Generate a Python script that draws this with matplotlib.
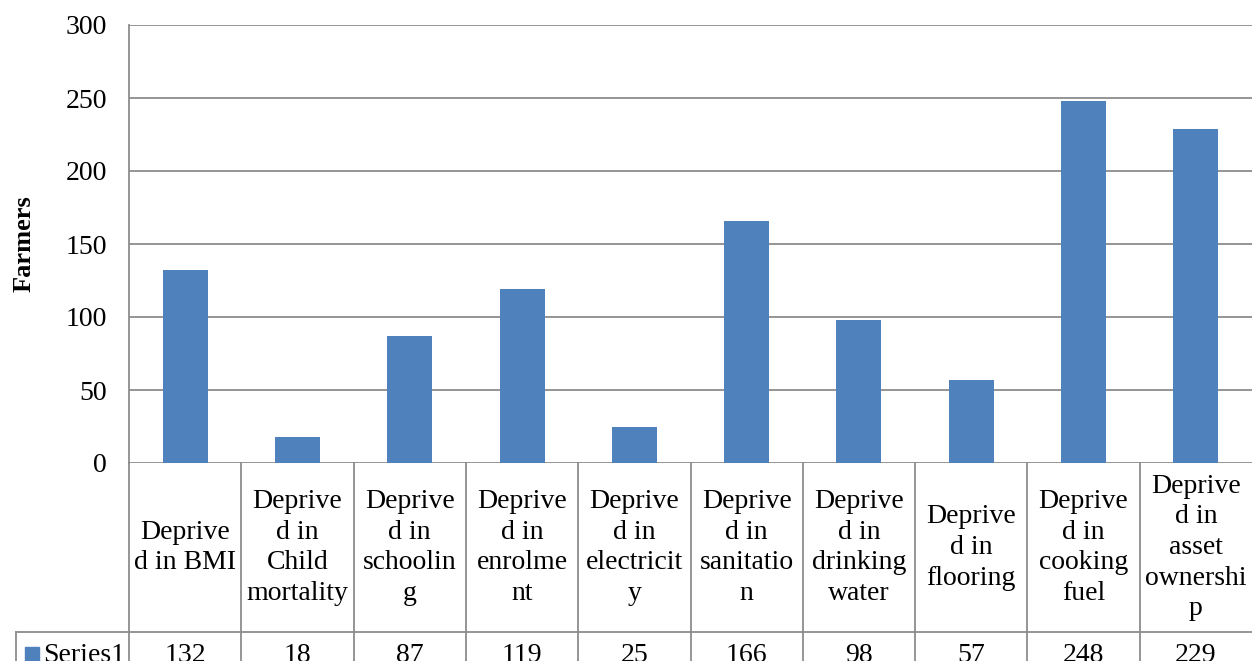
import numpy as np
from matplotlib import pyplot as plt

categories = ["Deprive\nd in BMI", "Deprive\nd in\nChild\nmortality", "Deprive\nd in\nschoolin\ng",
              "Deprive\nd in\nenrolme\nnt", "Deprive\nd in\nelectricit\ny", "Deprive\nd in\nsanitatio\nn",
              "Deprive\nd in\ndrinking\nwater", "Deprive\nd in\nflooring", "Deprive\nd in\ncooking\nfuel",
              "Deprive\nd in\nasset\nownershi\np"]
series1 = [132, 18, 87, 119, 25, 166, 98, 57, 248, 229]
yticks = [0, 50, 100, 150, 200, 250, 300]

W, H = 1252, 661
blue = '#4F81BD'
grey = '#8C8C8C'
plt.rcParams['font.family'] = ['Liberation Serif', 'DejaVu Serif']

fig = plt.figure(figsize=(W / 100, H / 100), dpi=100)

# plot area (pixels): left 129, top 25, bottom 463, right 1252
x0, y_top, y0 = 129, 25, 463
ax = fig.add_axes([x0 / W, (H - y0) / H, (W - x0) / W, (y0 - y_top) / H])
x = np.arange(len(series1))
ax.bar(x, series1, width=0.4, color=blue, zorder=3)
ax.set_xlim(-0.5, len(series1) - 0.5)
ax.set_ylim(0, 300)
ax.set_yticks(yticks)
ax.set_yticklabels([str(t) for t in yticks], fontsize=20)
ax.set_xticks([])
ax.tick_params(axis='y', length=0, pad=16)
ax.grid(axis='y', color=grey, linewidth=1.3, zorder=0)
for s in ['top', 'right', 'bottom']:
    ax.spines[s].set_visible(False)
ax.spines['left'].set_color(grey)
ax.spines['left'].set_linewidth(1.3)
fig.text(24 / W, 1 - 244 / H, 'Farmers', rotation=90, ha='center', va='center',
         fontsize=19, fontweight='bold')

# data table below the plot
colw = (W - x0) / len(series1)
tl = 16
head_bot, row_bot = 632, 676
tax = fig.add_axes([tl / W, (H - row_bot) / H, (W - tl) / W, (row_bot - y0) / H])
tax.set_xlim(-0.5 - (x0 - tl) / colw, len(series1) - 0.5)
tax.set_ylim(row_bot, y0)
tax.axis('off')
lk = dict(color=grey, linewidth=1.3, clip_on=False)
for i in range(len(series1)):
    tax.plot([i - 0.5, i - 0.5], [y0, row_bot], **lk)
    tax.text(i, (y0 + head_bot) / 2, categories[i], ha='center', va='center',
             fontsize=20, linespacing=1.3)
    tax.text(i, (head_bot + row_bot) / 2 + 1, str(series1[i]), ha='center', va='center', fontsize=20)
lx = -0.5 - (x0 - tl) / colw
tax.plot([lx, len(series1) - 0.5], [head_bot, head_bot], **lk)
tax.plot([lx, lx], [head_bot, row_bot], **lk)
tax.plot([lx + 0.14], [(head_bot + row_bot) / 2], marker='s',
         markersize=10, color=blue, linestyle='none', clip_on=False)
tax.text(lx + 0.245, (head_bot + row_bot) / 2 + 1, 'Series1', ha='left', va='center', fontsize=20)

plt.savefig('out.png', dpi=100)
